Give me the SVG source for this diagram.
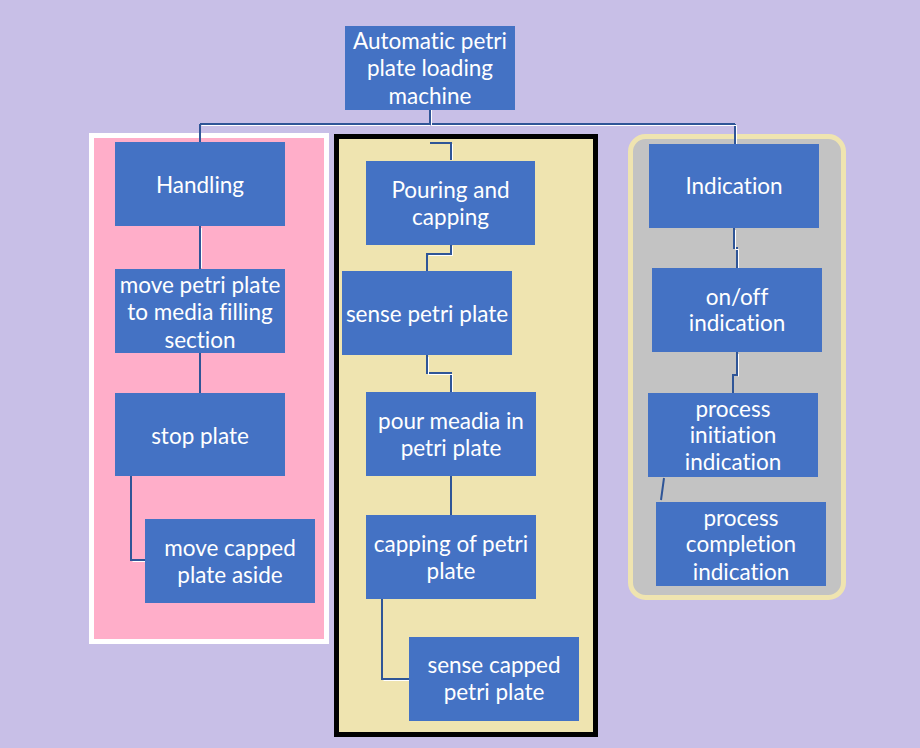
<svg xmlns="http://www.w3.org/2000/svg" width="920" height="748" viewBox="0 0 920 748">
<style>
.node rect{fill:#4472C4}
.node text{fill:#FFFFFF;font-family:Lato,"Open Sans","Liberation Sans",sans-serif;font-size:22.5px;text-anchor:middle;dominant-baseline:central;font-variant-ligatures:none;font-feature-settings:"liga" 0,"dlig" 0}
.conn{fill:none;stroke:#2F5597;stroke-width:2}
.hl{fill:none;stroke:#FFFFFF;stroke-width:1}
</style>
<rect x="0" y="0" width="920" height="748" fill="#C8BFE7"/>
<g id="panels">
<rect x="91.5" y="135.5" width="235" height="506" fill="#FFAEC9" stroke="#FFFFFF" stroke-width="5"/>
<rect x="336.5" y="136.5" width="259" height="598" fill="#EFE4B0" stroke="#000000" stroke-width="5"/>
<rect x="630.5" y="136.5" width="213" height="461" rx="15" fill="#C3C3C3" stroke="#EFE4B0" stroke-width="5"/>
</g>
<g id="connectors">
<path class="conn" d="M430 110 V124 M200 124 H735 M200 124 V142 M735 124 V144 M430 143 H451 V160"/>
<path class="hl" d="M431.5 110 V125.5 H736.5 V144 M201.5 125.5 H430 M452.5 144 V160"/>
<path class="conn" d="M200 226 V269 M200 353 V393 M131 476 V560 H145"/>
<path class="hl" d="M201.5 228 V268 M132.5 561.5 H145"/>
<path class="conn" d="M451 245 V254 H427 V271 M427 355 V373 H451 V392 M451 476 V515 M382 599 V679 H409"/>
<path class="hl" d="M452.5 246 V255.5 H429 M428.5 357 V374.5 H452.5 V392 M383.5 680.5 H409"/>
<path class="conn" d="M734 228 V248 H737 V268 M737 352 V375 H733 V393 M664 478 L661 500"/>
<path class="hl" d="M735.5 230 V249.5 H738.5 V268 M738.5 354 V376.5"/>
</g>
<g id="n-root" class="node"><rect x="345" y="26" width="170" height="84"/><text x="430" y="40">Automatic petri</text><text x="430" y="67">plate loading</text><text x="430" y="95">machine</text></g>
<g id="n-handling" class="node"><rect x="115" y="142" width="170" height="84"/><text x="200" y="184">Handling</text></g>
<g id="n-move" class="node"><rect x="115" y="269" width="170" height="84"/><text x="200" y="284">move petri plate</text><text x="200" y="311">to media filling</text><text x="200" y="339">section</text></g>
<g id="n-stop" class="node"><rect x="115" y="393" width="170" height="83"/><text x="200" y="435">stop plate</text></g>
<g id="n-movecapped" class="node"><rect x="145" y="519" width="170" height="84"/><text x="230" y="547">move capped</text><text x="230" y="574">plate aside</text></g>
<g id="n-pouring" class="node"><rect x="366" y="161" width="169" height="84"/><text x="450.5" y="189">Pouring and</text><text x="450.5" y="216">capping</text></g>
<g id="n-sense" class="node"><rect x="342" y="271" width="170" height="84"/><text x="427" y="313">sense petri plate</text></g>
<g id="n-pour" class="node"><rect x="366" y="392" width="170" height="84"/><text x="451" y="420">pour meadia in</text><text x="451" y="447">petri plate</text></g>
<g id="n-capping" class="node"><rect x="366" y="515" width="170" height="84"/><text x="451" y="543">capping of petri</text><text x="451" y="570">plate</text></g>
<g id="n-sensecapped" class="node"><rect x="409" y="637" width="170" height="84"/><text x="494" y="664">sense capped</text><text x="494" y="691">petri plate</text></g>
<g id="n-indication" class="node"><rect x="649" y="144" width="170" height="84"/><text x="734" y="185">Indication</text></g>
<g id="n-onoff" class="node"><rect x="652" y="268" width="170" height="84"/><text x="737" y="296">on/off</text><text x="737" y="322">indication</text></g>
<g id="n-init" class="node"><rect x="648" y="393" width="170" height="84"/><text x="733" y="408">process</text><text x="733" y="434">initiation</text><text x="733" y="461">indication</text></g>
<g id="n-complete" class="node"><rect x="656" y="502" width="170" height="84"/><text x="741" y="517">process</text><text x="741" y="543">completion</text><text x="741" y="571">indication</text></g>
</svg>
